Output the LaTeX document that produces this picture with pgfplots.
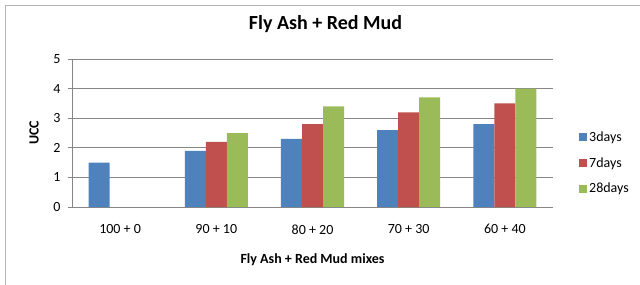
\documentclass[border=0pt]{standalone}
\usepackage{fontspec}
\setmainfont{Carlito}
\usepackage{pgfplots}
\pgfplotsset{compat=1.18}
\definecolor{cBlue}{HTML}{4F81BD}
\definecolor{cRed}{HTML}{C0504D}
\definecolor{cGreen}{HTML}{9BBB59}
\definecolor{cGrid}{HTML}{868686}
\definecolor{cFrame}{HTML}{B4B4B4}
\begin{document}
\begin{tikzpicture}
\draw[cFrame, line width=1.3pt] (5.5pt,-20pt) -- (5.5pt,278.5pt) -- (660pt,278.5pt);
\begin{axis}[
  at={(72pt,77pt)}, anchor=south west,
  scale only axis, width=481pt, height=148pt,
  ybar=0pt, bar width=21pt,
  xmin=-0.5, xmax=4.5, ymin=0, ymax=5,
  xtick={0,1,2,3,4},
  xticklabels={100 + 0, 90 + 10, 80 + 20, 70 + 30, 60 + 40},
  ytick={0,1,2,3,4,5},
  /pgf/number format/assume math mode=true,
  tick label style={font=\fontsize{14}{16}\selectfont},
  xticklabel style={yshift=-10pt},
  yticklabel style={xshift=-4pt},
  major x tick style={draw=none},
  major y tick style={draw=cGrid, line width=0.8pt},
  tick align=outside, major tick length=4pt,
  ymajorgrids, grid style={cGrid, line width=0.8pt},
  axis x line*=bottom, axis y line*=left,
  axis line style={-, draw=cGrid, line width=0.8pt},
  title={Fly Ash + Red Mud},
  title style={at={(axis description cs:0.527,1.196)}, anchor=center, font=\fontsize{20}{24}\selectfont\bfseries},
  xlabel={Fly Ash + Red Mud mixes},
  xlabel style={at={(axis description cs:0.5,-0.358)}, anchor=center, font=\fontsize{14}{17}\selectfont\bfseries},
  ylabel={UCC},
  ylabel style={at={(axis description cs:-0.079,0.5)}, anchor=center, font=\fontsize{14}{17}\selectfont\bfseries},
  legend style={at={(axis description cs:1,0.5)}, anchor=west, xshift=26pt, yshift=-30pt,
    draw=none, fill=none, font=\fontsize{14}{16}\selectfont, row sep=10.5pt, inner sep=0pt},
  legend cell align=left,
  legend image code/.code={\fill[#1] (0pt,-4pt) rectangle (8pt,4pt);},
]
\addplot[fill=cBlue, draw=none] coordinates {(0,1.5) (1,1.9) (2,2.3) (3,2.6) (4,2.8)};
\addplot[fill=cRed, draw=none] coordinates {(1,2.2) (2,2.8) (3,3.2) (4,3.5)};
\addplot[fill=cGreen, draw=none] coordinates {(1,2.5) (2,3.4) (3,3.7) (4,4.0)};
\legend{3days, 7days, 28days}
\end{axis}
\pgfresetboundingbox
\path[use as bounding box] (0pt,0pt) rectangle (640pt,284pt);
\end{tikzpicture}
\end{document}
